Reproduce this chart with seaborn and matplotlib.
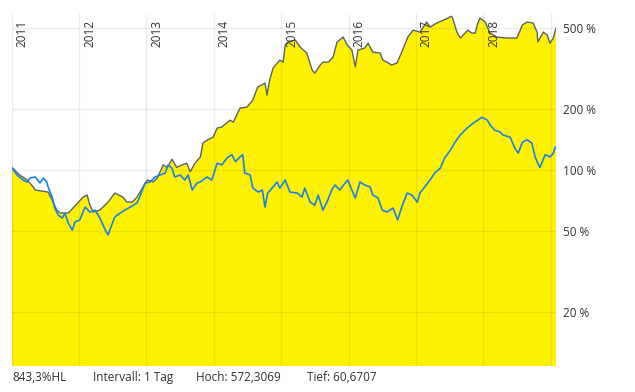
import matplotlib
matplotlib.use("Agg")
import matplotlib.pyplot as plt
import matplotlib.transforms as mtransforms
from matplotlib.ticker import FixedLocator, FixedFormatter, NullLocator
import seaborn as sns
import pandas as pd

# Wertentwicklung der Aktie in % (grau, gelb gefuellt), Zeit in Jahren
stock_t = [2011.00, 2011.12, 2011.23, 2011.32, 2011.35, 2011.54, 2011.60, 2011.67,
           2011.72, 2011.84, 2011.98, 2012.06, 2012.12, 2012.16, 2012.21, 2012.31,
           2012.43, 2012.53, 2012.65, 2012.71, 2012.79, 2012.86, 2012.95, 2013.01,
           2013.10, 2013.16, 2013.25, 2013.31, 2013.38, 2013.45, 2013.53, 2013.60,
           2013.65, 2013.72, 2013.80, 2013.84, 2013.91, 2013.99, 2014.05, 2014.12,
           2014.24, 2014.29, 2014.39, 2014.49, 2014.58, 2014.65, 2014.76, 2014.79,
           2014.83, 2014.88, 2014.98, 2015.03, 2015.06, 2015.10, 2015.21, 2015.28,
           2015.38, 2015.46, 2015.50, 2015.58, 2015.62, 2015.70, 2015.77, 2015.83,
           2015.92, 2015.98, 2016.05, 2016.10, 2016.14, 2016.24, 2016.29, 2016.36,
           2016.47, 2016.51, 2016.57, 2016.64, 2016.72, 2016.79, 2016.88, 2016.96,
           2017.06, 2017.16, 2017.21, 2017.31, 2017.48, 2017.52, 2017.54, 2017.61,
           2017.66, 2017.73, 2017.77, 2017.83, 2017.88, 2017.91, 2017.95, 2018.03,
           2018.10, 2018.20, 2018.35, 2018.50, 2018.58, 2018.65, 2018.74, 2018.80,
           2018.81, 2018.89, 2018.95, 2018.99, 2019.04, 2019.08]
stock_pct = [103, 94.5, 89.3, 82.5, 79.7, 77.9, 71.1, 63.5,
             61.4, 61.4, 68.8, 73.6, 75.3, 67.2, 62.1, 63.5,
             69.5, 77.0, 73.6, 69.5, 69.5, 73.6, 82.5, 89.3,
             87.3, 91.3, 106, 103, 113, 103, 106, 108,
             98, 108, 116, 136, 141, 145, 161, 163,
             176, 172, 202, 204, 221, 256, 268, 234,
             278, 318, 348, 340, 413, 427, 437, 404,
             377, 311, 300, 329, 340, 340, 360, 427,
             452, 413, 390, 322, 390, 399, 422, 381,
             377, 348, 340, 329, 337, 381, 452, 489,
             478, 536, 506, 530, 561, 572, 567, 478,
             447, 473, 489, 473, 473, 518, 561, 536,
             473, 452, 447, 447, 518, 536, 530, 478,
             427, 478, 462, 422, 447, 501]

# Vergleichsindex in % (blau)
bench_t = [2011.00, 2011.08, 2011.17, 2011.23, 2011.27, 2011.35, 2011.42, 2011.47,
           2011.52, 2011.54, 2011.60, 2011.64, 2011.69, 2011.75, 2011.79, 2011.84,
           2011.90, 2011.94, 2012.01, 2012.09, 2012.16, 2012.24, 2012.31, 2012.39,
           2012.43, 2012.53, 2012.61, 2012.68, 2012.76, 2012.86, 2012.90, 2012.98,
           2013.05, 2013.13, 2013.20, 2013.28, 2013.32, 2013.38, 2013.42, 2013.50,
           2013.57, 2013.62, 2013.68, 2013.75, 2013.80, 2013.90, 2013.97, 2014.05,
           2014.12, 2014.20, 2014.27, 2014.32, 2014.39, 2014.43, 2014.46, 2014.54,
           2014.58, 2014.66, 2014.72, 2014.76, 2014.80, 2014.88, 2014.94, 2014.98,
           2015.06, 2015.13, 2015.24, 2015.31, 2015.35, 2015.43, 2015.50, 2015.55,
           2015.62, 2015.68, 2015.75, 2015.80, 2015.87, 2015.95, 2015.99, 2016.05,
           2016.10, 2016.17, 2016.24, 2016.32, 2016.36, 2016.44, 2016.50, 2016.57,
           2016.66, 2016.73, 2016.79, 2016.87, 2016.94, 2017.02, 2017.06, 2017.13,
           2017.21, 2017.28, 2017.36, 2017.43, 2017.51, 2017.58, 2017.66, 2017.76,
           2017.85, 2017.98, 2018.06, 2018.10, 2018.17, 2018.25, 2018.29, 2018.40,
           2018.47, 2018.52, 2018.58, 2018.65, 2018.72, 2018.77, 2018.81, 2018.84,
           2018.92, 2018.99, 2019.04, 2019.07]
bench_pct = [103, 94.5, 89.3, 87.3, 91.3, 92.4, 86.3, 91.3,
             87.3, 82.5, 73.6, 65.0, 60.0, 58.0, 61.4, 54.8,
             50.6, 55.5, 56.7, 65.7, 62.1, 63.5, 58.0, 50.6,
             47.9, 58.7, 61.4, 63.5, 65.7, 68.8, 73.6, 86.3,
             87.3, 92.4, 94.5, 96.7, 106, 102, 92.4, 94.5,
             89.3, 94.5, 79.7, 86.3, 87.3, 92.4, 89.3, 108,
             106, 115, 119, 110, 116, 119, 96.7, 94.5,
             81.5, 77.9, 79.7, 65.7, 77.0, 82.5, 87.3, 81.5,
             89.3, 77.9, 77.0, 73.6, 81.5, 69.5, 67.2, 75.3,
             63.5, 69.5, 79.7, 84.4, 79.7, 86.3, 89.3, 79.7,
             72.8, 87.3, 84.4, 82.5, 75.3, 72.8, 63.5, 62.1,
             65.0, 56.7, 65.7, 77.0, 75.3, 69.5, 77.0, 82.5,
             89.3, 96.7, 102, 115, 125, 137, 149, 161,
             170, 182, 176, 167, 157, 154, 149, 145,
             128, 121, 137, 141, 136, 116, 108, 103,
             119, 116, 121, 130]

years = [2011, 2012, 2013, 2014, 2015, 2016, 2017, 2018, 2019]
year_labels = ['2011', '2012', '2013', '2014', '2015', '2016', '2017', '2018']
y_ticks = [20, 50, 100, 200, 500]
y_tick_labels = ['20 %', '50 %', '100 %', '200 %', '500 %']
footer = ['843,3%HL', 'Intervall: 1 Tag', 'Hoch: 572,3069', 'Tief: 60,6707']

df_stock = pd.DataFrame({'Jahr': stock_t, 'Prozent': stock_pct})
df_bench = pd.DataFrame({'Jahr': bench_t, 'Prozent': bench_pct})

sns.set_theme(style="white")
plt.rcParams['font.family'] = ['Open Sans', 'DejaVu Sans']

fig = plt.figure(figsize=(6.35, 3.92), dpi=100)
ax = fig.add_axes([0.0184, 0.0663, 0.8572, 0.898])

# gelbe Flaeche unter der Aktie
ax.fill_between(df_stock['Jahr'], df_stock['Prozent'], 1, color='#fff200', lw=0, zorder=1)
sns.lineplot(data=df_stock, x='Jahr', y='Prozent', color='#5c6068', lw=1, ax=ax, zorder=3)
sns.lineplot(data=df_bench, x='Jahr', y='Prozent', color='#1a82e6', lw=1.2, ax=ax, zorder=4)

ax.set_yscale('log')
ax.set_ylim(10.83, 587)
ax.set_xlim(2011.0, 2019.08)

ax.yaxis.set_major_locator(FixedLocator(y_ticks))
ax.yaxis.set_major_formatter(FixedFormatter(y_tick_labels))
ax.yaxis.set_minor_locator(NullLocator())
ax.yaxis.tick_right()
ax.set_xticks(years)
ax.set_xticklabels([])
ax.tick_params(axis='both', length=0)
ax.tick_params(axis='y', pad=5, labelsize=8.5, labelcolor='#333333')
ax.set_xlabel('')
ax.set_ylabel('')

# Gitter halbtransparent ueber der Flaeche
ax.set_axisbelow('line')
ax.grid(True, color='black', alpha=0.07, lw=1)
for s in ax.spines.values():
    s.set_visible(False)

# Jahreszahlen gedreht oben im Diagramm
trans = mtransforms.blended_transform_factory(ax.transData, ax.transAxes)
for yr, lab in zip(years, year_labels):
    ax.text(yr + 0.06, 0.983, lab, rotation=90, ha='left', va='top',
            fontsize=8.5, color='#333333', transform=trans, zorder=5)

# Fusszeile
for xpos, txt in zip([12, 93, 196, 307], footer):
    fig.text(xpos / 635, 0.038, txt, ha='left', va='center', fontsize=8.5, color='#333333')

fig.savefig('out.png', dpi=100)
